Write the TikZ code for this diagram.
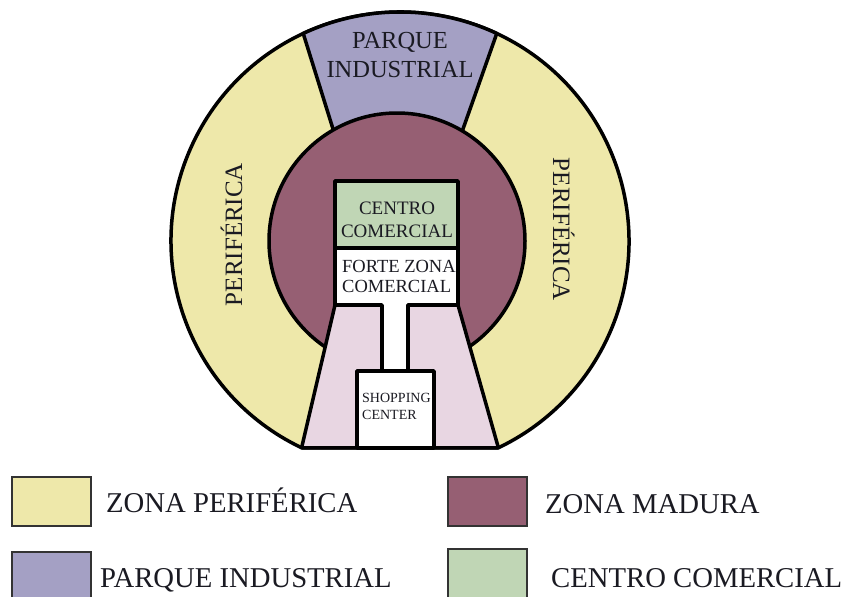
\documentclass[tikz,border=0pt]{standalone}
\usepackage{fontspec}
\setmainfont{Liberation Serif}
\usetikzlibrary{calc}
\definecolor{peri}{HTML}{EEE8AA}
\definecolor{parque}{HTML}{A4A0C4}
\definecolor{madura}{HTML}{965F73}
\definecolor{centro}{HTML}{C0D6B5}
\definecolor{rosa}{HTML}{E8D6E2}
\definecolor{txt}{HTML}{1A1A22}
\tikzset{
  zone/.style={draw=black, line width=3.5pt, line join=round},
  legbox/.style={draw=black!80, line width=1.3pt},
  legtxt/.style={anchor=base west, inner sep=0pt, text=txt, font=\fontsize{28.7}{30}\selectfont},
  lbl/.style={inner sep=0pt, text=txt},
}
\begin{document}
\begin{tikzpicture}[x=1pt,y=-1pt]
\useasboundingbox (0,0) rectangle (844,597);
\clip (0,0) rectangle (844,597);
\coordinate (C) at (400,241);
\coordinate (Ci) at (397,241);
\coordinate (PL) at ([shift={(115.45:229)}]C);
\coordinate (PR) at ([shift={(64.55:229)}]C);
\coordinate (A1) at ([shift={(-115:229)}]C);
\coordinate (A2) at ([shift={(-65:229)}]C);
% zona periferica (outer ring)
\path[zone, fill=peri] (PL) arc[start angle=115.45, end angle=424.55, radius=229] -- cycle;
% parque industrial
\path[zone, fill=parque] (A1) arc[start angle=-115, end angle=-65, radius=229] -- (448.5,170) -- (345.8,170) -- cycle;
% zona madura
\path[zone, fill=madura] (Ci) circle[radius=128];
% pink trapezoid
\path[zone, fill=rosa] (335,305) -- (PL) -- (PR) -- (458,305) -- cycle;
% centro comercial
\path[zone, fill=centro] (335,181) rectangle (458,248);
% forte zona comercial + stem
\path[zone, fill=white] (335,248) -- (458,248) -- (458,305) -- (408,305) -- (408,371) -- (382,371) -- (382,305) -- (335,305) -- cycle;
% shopping center
\path[zone, fill=white] (357,371) rectangle (434,448);
% labels
\node[lbl, anchor=north, align=center, font=\fontsize{24.5}{29}\selectfont] (tparque) at (400,32) {PARQUE\\INDUSTRIAL};
\node[lbl, anchor=base, rotate=90, font=\fontsize{25}{30}\selectfont] (tperil) at (242,234.5) {PERIFÉRICA};
\node[lbl, anchor=base, rotate=-90, font=\fontsize{25}{30}\selectfont] (tperir) at (553,229.5) {PERIFÉRICA};
\node[lbl, anchor=north, align=center, font=\fontsize{19}{23}\selectfont] (tcentro) at (397,202) {CENTRO\\COMERCIAL};
\node[lbl, anchor=north west, align=left, font=\fontsize{18.5}{20}\selectfont] (tforte) at (342,260) {FORTE ZONA\\COMERCIAL};
\node[lbl, anchor=north west, align=left, font=\fontsize{14}{17}\selectfont] (tshop) at (362,393) {SHOPPING\\CENTER};
% legend
\path[legbox, fill=peri] (12,477) rectangle (91,526);
\path[legbox, fill=madura] (448,477) rectangle (527,526);
\path[legbox, fill=parque] (12,552) rectangle (91,605);
\path[legbox, fill=centro] (448,549) rectangle (527,605);
\node[legtxt] (lperi) at (106,512) {ZONA PERIFÉRICA};
\node[legtxt] (lmad) at (545,513) {ZONA MADURA};
\node[legtxt] (lparq) at (100,587) {PARQUE INDUSTRIAL};
\node[legtxt] (lcent) at (551,587) {CENTRO COMERCIAL};
\end{tikzpicture}
\end{document}
